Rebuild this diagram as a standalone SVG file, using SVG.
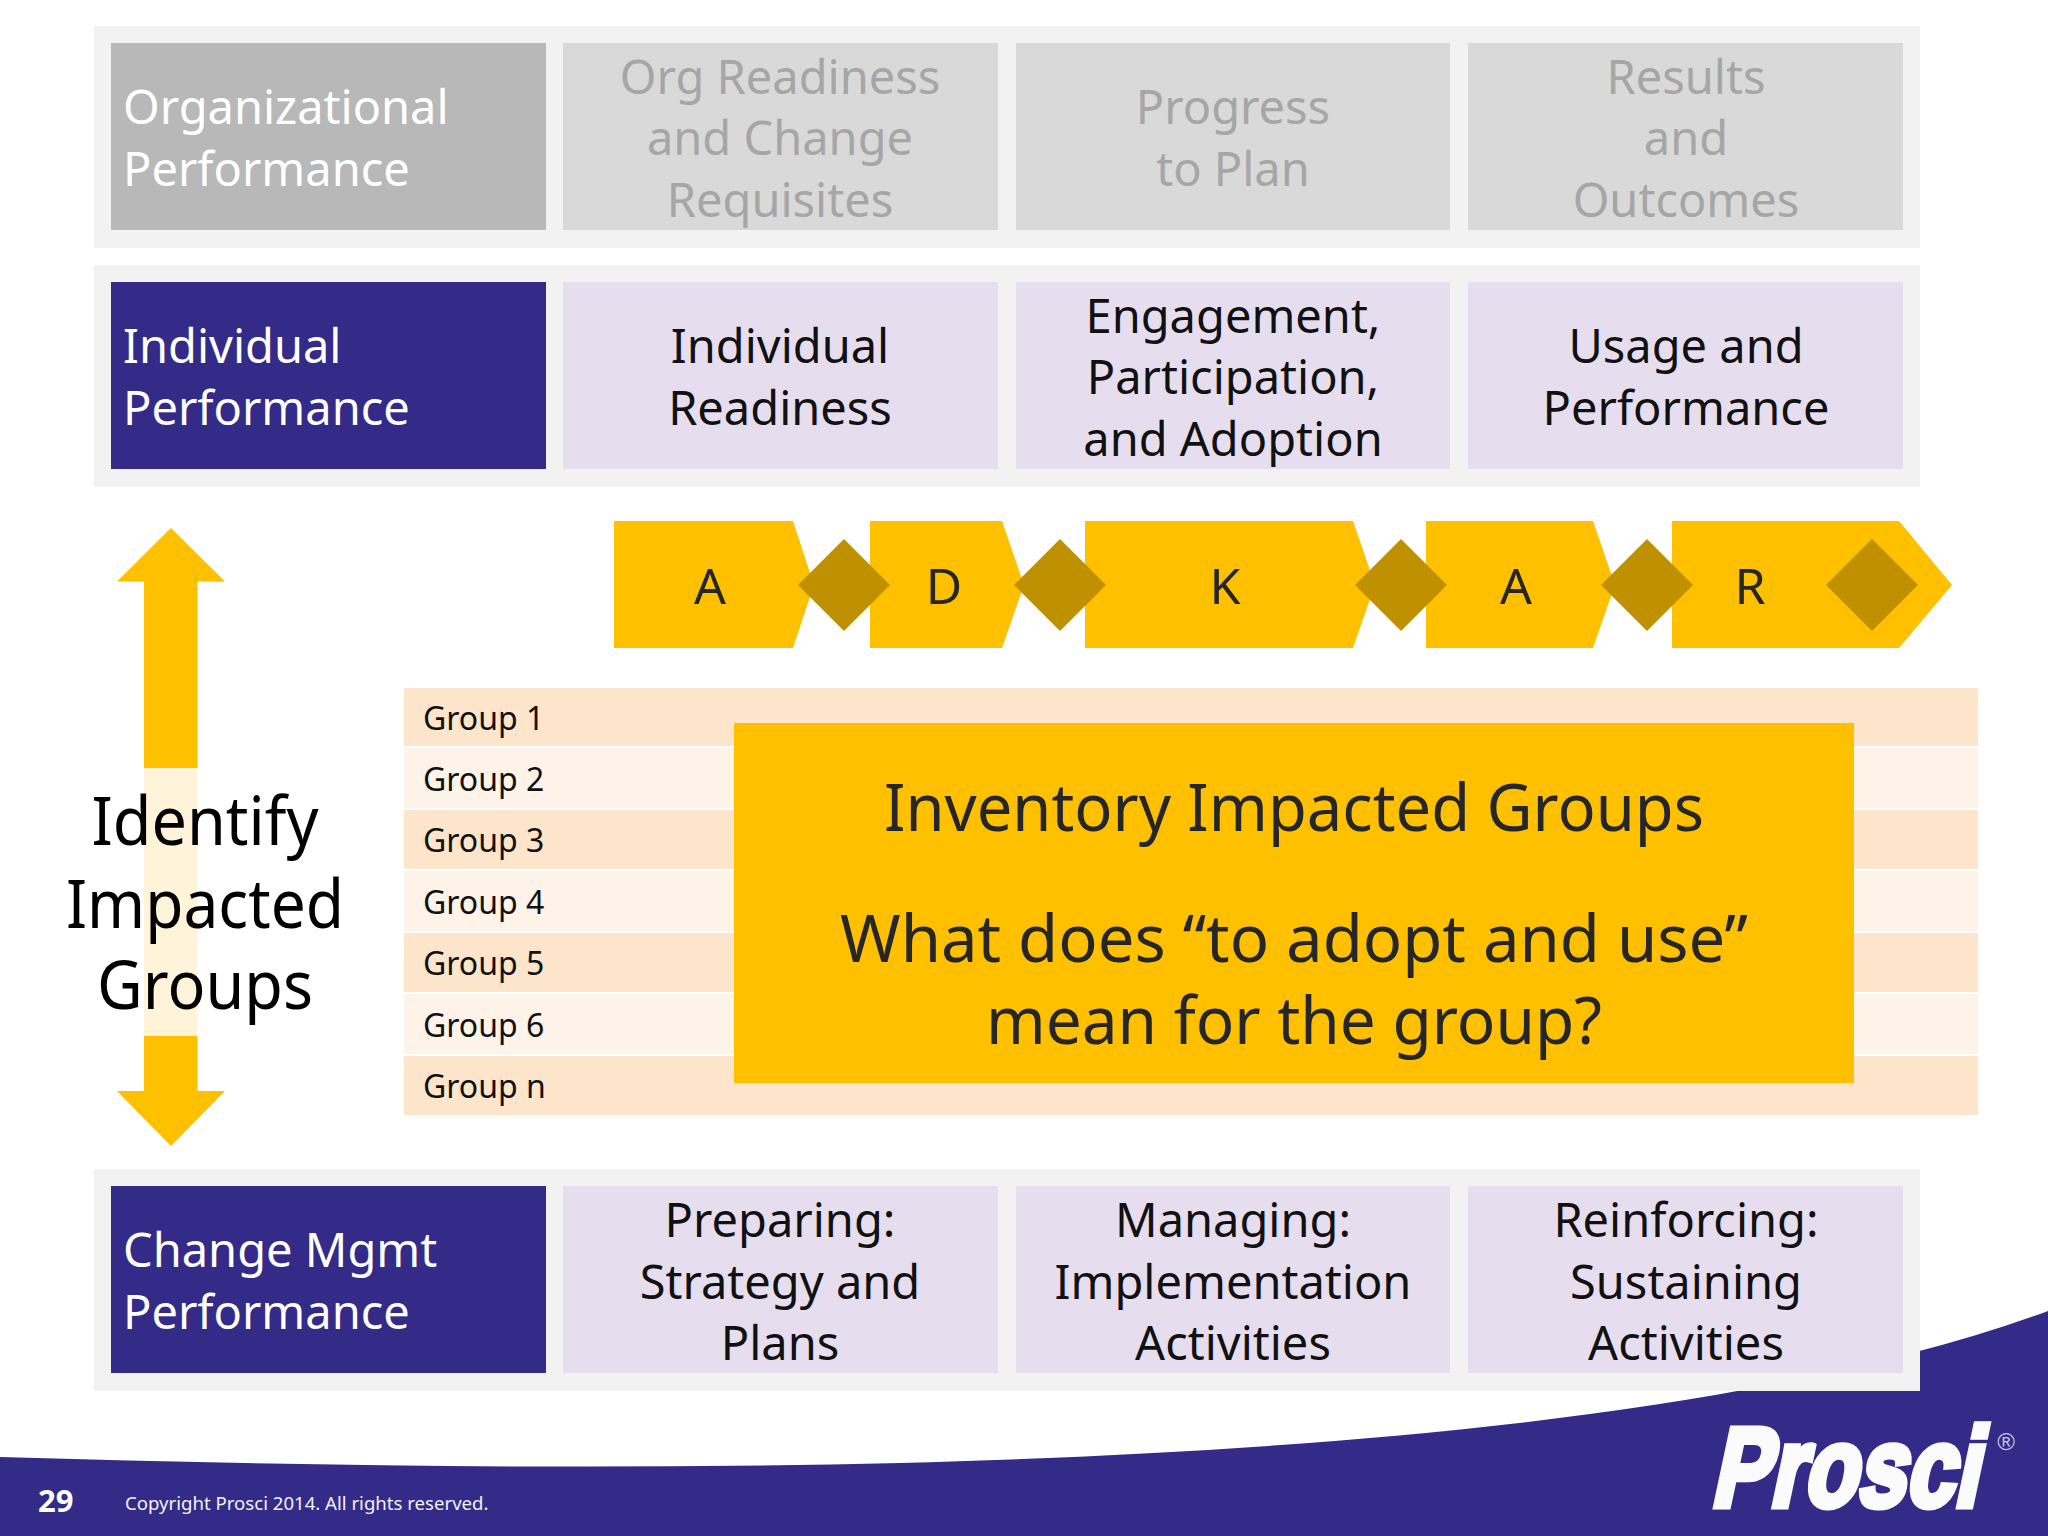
<svg xmlns="http://www.w3.org/2000/svg" width="2048" height="1536" viewBox="0 0 2048 1536">
<style>
text{font-family:"Noto Sans","Open Sans","Liberation Sans",sans-serif;}
.band{fill:#f2f2f2}
.grey{fill:#d9d9d9}
.purple{fill:#342a87}
.lilac{fill:#e6deef}
.t{font-size:47px;fill:#111;text-anchor:middle}
.tg{font-size:47px;fill:#a6a6a6;text-anchor:middle}
.tw{font-size:47px;fill:#fff}
.gold{fill:#ffc000}
.dia{fill:#bf9000}
.letter{font-size:50px;fill:#262626;text-anchor:middle}
.odd{fill:#fde5cb}
.even{fill:#fdf3e8}
.gt{font-size:32px;fill:#111}
.big{font-size:66px;fill:#262626;text-anchor:middle}
.side{font-size:67px;fill:#000;text-anchor:middle}
</style>
<rect width="2048" height="1536" fill="#fff"/>
<g id="footer">
<path class="purple" d="M0 1457C300 1466 600 1470 900 1463C1300 1452 1750 1420 2048 1311V1536H0Z"/>
<text x="38" y="1512" font-size="31" font-weight="700" fill="#fff">29</text>
<text x="125" y="1510" font-size="18.600" fill="#f2f2f2">Copyright Prosci 2014. All rights reserved.</text>
<text transform="translate(1710 1506) skewX(-12) scale(.78 1)" font-size="112" font-weight="700" fill="#fbfbfb" stroke="#fbfbfb" stroke-width="7" style="font-family:'Liberation Sans',sans-serif">Prosci</text>
<text x="2006" y="1450" font-size="24" fill="#c8c4e8" text-anchor="middle" style="font-family:'Liberation Sans',sans-serif">®</text>
</g>
<g id="row-organizational">
<rect class="band" x="94" y="26" width="1826" height="222"/>
<g id="org-performance"><rect x="111" y="43" width="435" height="187" fill="#b8b8b8"/><text class="tw" x="123" y="124">Organizational</text><text class="tw" x="123" y="186">Performance</text></g>
<g id="org-readiness"><rect class="grey" x="563" y="43" width="435" height="187"/><text class="tg" x="780" y="94">Org Readiness</text><text class="tg" x="780" y="155">and Change</text><text class="tg" x="780" y="217">Requisites</text></g>
<g id="progress"><rect class="grey" x="1016" y="43" width="434" height="187"/><text class="tg" x="1233" y="124">Progress</text><text class="tg" x="1233" y="186">to Plan</text></g>
<g id="results"><rect class="grey" x="1468" y="43" width="435" height="187"/><text class="tg" x="1686" y="94">Results</text><text class="tg" x="1686" y="155">and</text><text class="tg" x="1686" y="217">Outcomes</text></g>
</g>
<g id="row-individual">
<rect class="band" x="94" y="265" width="1826" height="222"/>
<g id="ind-performance"><rect class="purple" x="111" y="282" width="435" height="187"/><text class="tw" x="123" y="363">Individual</text><text class="tw" x="123" y="425">Performance</text></g>
<g id="ind-readiness"><rect class="lilac" x="563" y="282" width="435" height="187"/><text class="t" x="780" y="363">Individual</text><text class="t" x="780" y="425">Readiness</text></g>
<g id="engagement"><rect class="lilac" x="1016" y="282" width="434" height="187"/><text class="t" x="1233" y="333">Engagement,</text><text class="t" x="1233" y="394">Participation,</text><text class="t" x="1233" y="456">and Adoption</text></g>
<g id="usage"><rect class="lilac" x="1468" y="282" width="435" height="187"/><text class="t" x="1686" y="363">Usage and</text><text class="t" x="1686" y="425">Performance</text></g>
</g>
<g id="adkar">
<g id="adkar-a1"><path class="gold" d="M614 521H793L814 585L793 648H614Z"/><text class="letter" x="710" y="604">A</text></g>
<g id="adkar-d"><path class="gold" d="M870 521H1002L1024 585L1002 648H870Z"/><text class="letter" x="944" y="604">D</text></g>
<g id="adkar-k"><path class="gold" d="M1085 521H1353L1375 585L1353 648H1085Z"/><text class="letter" x="1225" y="604">K</text></g>
<g id="adkar-a2"><path class="gold" d="M1426 521H1593L1615 585L1593 648H1426Z"/><text class="letter" x="1516" y="604">A</text></g>
<g id="adkar-r"><path class="gold" d="M1672 521H1899L1952 585L1899 648H1672Z"/><text class="letter" x="1750" y="604">R</text></g>
<path class="dia" d="M844 539L890 585L844 631L798 585Z"/>
<path class="dia" d="M1060 539L1106 585L1060 631L1014 585Z"/>
<path class="dia" d="M1401 539L1447 585L1401 631L1355 585Z"/>
<path class="dia" d="M1647 539L1693 585L1647 631L1601 585Z"/>
<path class="dia" d="M1872 539L1918 585L1872 631L1826 585Z"/>
</g>
<g id="identify">
<path class="gold" d="M171 528L225 581.500H197.500V768H144V581.500H117Z"/>
<path class="gold" d="M144 1036H197.500V1091H225L171 1146L117 1091H144Z"/>
<rect x="144" y="768" width="53.500" height="268" fill="#fff4d9"/>
<text class="side" x="205" y="845" textLength="227" lengthAdjust="spacingAndGlyphs">Identify</text>
<text class="side" x="205" y="928" textLength="278" lengthAdjust="spacingAndGlyphs">Impacted</text>
<text class="side" x="205" y="1009" textLength="216" lengthAdjust="spacingAndGlyphs">Groups</text>
</g>
<g id="groups">
<g id="group-1"><rect class="odd" x="404" y="688" width="1574" height="58"/><text class="gt" x="423" y="730">Group 1</text></g>
<g id="group-2"><rect class="even" x="404" y="748" width="1574" height="60"/><text class="gt" x="423" y="791">Group 2</text></g>
<g id="group-3"><rect class="odd" x="404" y="810" width="1574" height="59"/><text class="gt" x="423" y="852">Group 3</text></g>
<g id="group-4"><rect class="even" x="404" y="871" width="1574" height="60"/><text class="gt" x="423" y="914">Group 4</text></g>
<g id="group-5"><rect class="odd" x="404" y="933" width="1574" height="59"/><text class="gt" x="423" y="975">Group 5</text></g>
<g id="group-6"><rect class="even" x="404" y="994" width="1574" height="60"/><text class="gt" x="423" y="1037">Group 6</text></g>
<g id="group-n"><rect class="odd" x="404" y="1056" width="1574" height="59"/><text class="gt" x="423" y="1098">Group n</text></g>
</g>
<g id="inventory">
<rect class="gold" x="734" y="723" width="1120" height="360"/>
<text class="big" x="1294" y="831" textLength="820" lengthAdjust="spacingAndGlyphs">Inventory Impacted Groups</text>
<text class="big" x="1294" y="962" textLength="908" lengthAdjust="spacingAndGlyphs">What does “to adopt and use”</text>
<text class="big" x="1294" y="1044" textLength="616" lengthAdjust="spacingAndGlyphs">mean for the group?</text>
</g>
<g id="row-change">
<rect class="band" x="94" y="1169" width="1826" height="222"/>
<g id="cm-performance"><rect class="purple" x="111" y="1186" width="435" height="187"/><text class="tw" x="123" y="1267">Change Mgmt</text><text class="tw" x="123" y="1329">Performance</text></g>
<g id="preparing"><rect class="lilac" x="563" y="1186" width="435" height="187"/><text class="t" x="780" y="1237">Preparing:</text><text class="t" x="780" y="1299">Strategy and</text><text class="t" x="780" y="1360">Plans</text></g>
<g id="managing"><rect class="lilac" x="1016" y="1186" width="434" height="187"/><text class="t" x="1233" y="1237">Managing:</text><text class="t" x="1233" y="1299">Implementation</text><text class="t" x="1233" y="1360">Activities</text></g>
<g id="reinforcing"><rect class="lilac" x="1468" y="1186" width="435" height="187"/><text class="t" x="1686" y="1237">Reinforcing:</text><text class="t" x="1686" y="1299">Sustaining</text><text class="t" x="1686" y="1360">Activities</text></g>
</g>
</svg>
